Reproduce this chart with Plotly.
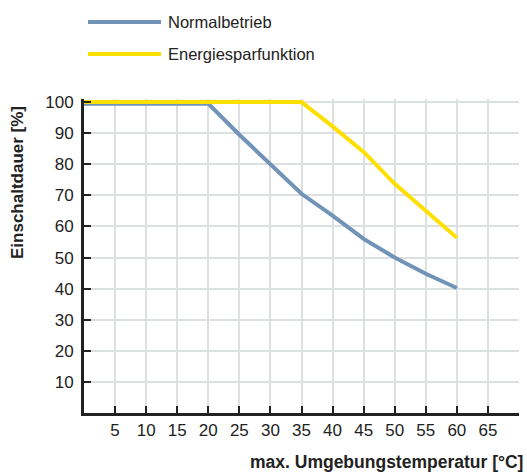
import plotly.graph_objects as go

# Data
temp_normal = [0, 20, 25, 30, 35, 40, 45, 50, 55, 60]
duty_normal = [99.5, 99.5, 89.5, 80, 70.5, 63.5, 56, 50, 44.8, 40.2]
temp_eco = [0, 35, 40, 45, 50, 55, 60]
duty_eco = [100, 100, 92.2, 84, 73.7, 65.2, 56.4]

x_ticks = [5, 10, 15, 20, 25, 30, 35, 40, 45, 50, 55, 60, 65, 70]
x_labels = ["5", "10", "15", "20", "25", "30", "35", "40", "45", "50", "55", "60", "65", ""]
y_ticks = [10, 20, 30, 40, 50, 60, 70, 80, 90, 100]

names = ["Normalbetrieb", "Energiesparfunktion"]
colors = ["#7193b8", "#ffdf00"]

FONT = "Liberation Sans, Arial, sans-serif"
W, H = 527, 474
ML, MR, MT, MB = 84, 8, 99, 61

fig = go.Figure()
fig.add_trace(go.Scatter(x=temp_normal, y=duty_normal, mode="lines", name=names[0],
                         line=dict(color=colors[0], width=4), showlegend=False))
fig.add_trace(go.Scatter(x=temp_eco, y=duty_eco, mode="lines", name=names[1],
                         line=dict(color=colors[1], width=4), showlegend=False))

# Custom legend (long line samples)
pw = W - ML - MR
ph = H - MT - MB
def px_to_paper_x(px):
    return (px - ML) / pw
def px_to_paper_y(py):
    return (H - MB - py) / ph

legend_y = [22, 54]
for i in range(2):
    fig.add_shape(type="line", xref="paper", yref="paper",
                  x0=px_to_paper_x(88), x1=px_to_paper_x(161),
                  y0=px_to_paper_y(legend_y[i]), y1=px_to_paper_y(legend_y[i]),
                  line=dict(color=colors[i], width=4))
    fig.add_annotation(text=names[i], xref="paper", yref="paper",
                       x=px_to_paper_x(166), y=px_to_paper_y(legend_y[i]),
                       xanchor="left", yanchor="middle", showarrow=False,
                       font=dict(family=FONT, size=16.5, color="#222222"))

# Axis titles
fig.add_annotation(text="<b>Einschaltdauer [%]</b>", xref="paper", yref="paper",
                   x=px_to_paper_x(17), y=px_to_paper_y(183), textangle=-90,
                   xanchor="center", yanchor="middle", showarrow=False,
                   font=dict(family=FONT, size=17, color="#222222"))
fig.add_annotation(text="<b>max. Umgebungstemperatur [°C]</b>", xref="paper", yref="paper",
                   x=px_to_paper_x(525), y=px_to_paper_y(462),
                   xanchor="right", yanchor="middle", showarrow=False,
                   font=dict(family=FONT, size=17.5, color="#222222"))

fig.update_layout(
    width=W, height=H,
    margin=dict(l=ML, r=MR, t=MT, b=MB),
    plot_bgcolor="white", paper_bgcolor="white",
    font=dict(family=FONT, size=17, color="#222222"),
)
fig.update_xaxes(range=[0, 70], tickvals=x_ticks, ticktext=x_labels,
                 showgrid=True, gridcolor="#dde0e0", gridwidth=1.5,
                 showline=True, linecolor="#222222", linewidth=3,
                 ticks="inside", ticklen=7, tickwidth=1.5, tickcolor="#222222",
                 zeroline=False, tickfont=dict(size=17))
fig.update_yaxes(range=[0, 101], tickvals=y_ticks,
                 showgrid=True, gridcolor="#dde0e0", gridwidth=1.5,
                 showline=True, linecolor="#222222", linewidth=3,
                 ticks="inside", ticklen=7, tickwidth=1.5, tickcolor="#222222",
                 zeroline=False, tickfont=dict(size=17), ticklabelstandoff=4)

fig.write_html("out.html", config={"displayModeBar": False},
               post_script="document.body.style.margin='0px';")
